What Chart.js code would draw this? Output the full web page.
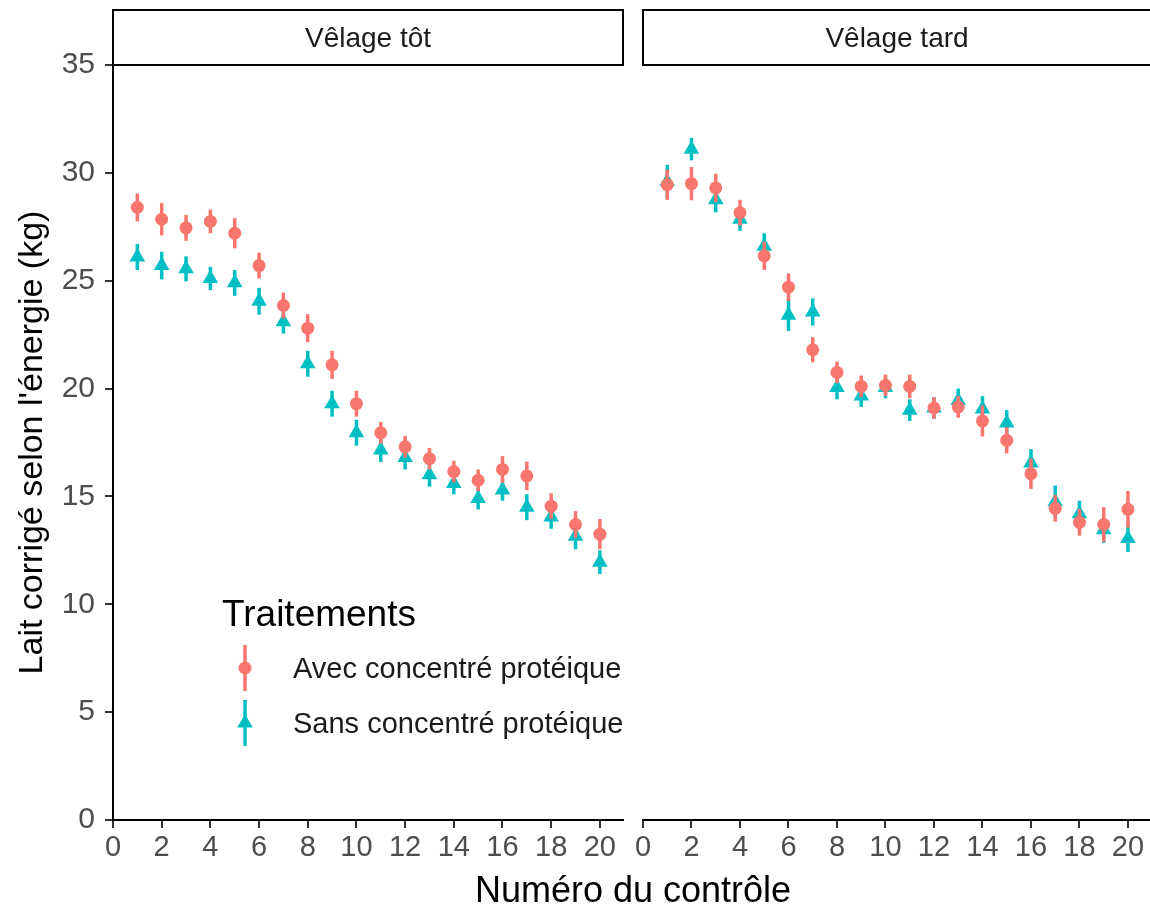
<!DOCTYPE html>
<html>
<head>
<meta charset="utf-8">
<script src="https://cdn.jsdelivr.net/npm/chart.js@4.4.0/dist/chart.umd.min.js"></script>
<style>
  html, body { margin: 0; padding: 0; background: #fff; overflow: hidden; }
  #wrap { position: relative; width: 1150px; height: 905px; overflow: hidden; }
  #left { position: absolute; left: 0; top: 0; }
  #right { position: absolute; left: 630px; top: 0; }
  #xtitle {
    position: absolute; left: 383px; width: 500px; top: 869px;
    text-align: center; color: #000; line-height: 40px;
    font: 36px "Liberation Sans", Arial, sans-serif;
  }
</style>
</head>
<body>
<div id="wrap">
  <canvas id="left" width="632" height="905"></canvas>
  <canvas id="right" width="530" height="905"></canvas>
  <div id="xtitle">Numéro du contrôle</div>
</div>
<script>
// Data
const controles = [1, 2, 3, 4, 5, 6, 7, 8, 9, 10, 11, 12, 13, 14, 15, 16, 17, 18, 19, 20];
const facettes = ['Vêlage tôt', 'Vêlage tard'];
const traitements = ['Avec concentré protéique', 'Sans concentré protéique'];

// Vêlage tôt
const avecTot = [28.4, 27.85, 27.45, 27.75, 27.2, 25.7, 23.85, 22.8, 21.1, 19.3, 17.95, 17.3, 16.75, 16.15, 15.75, 16.25, 15.95, 14.55, 13.7, 13.25];
const errAvecTot = [0.65, 0.75, 0.6, 0.55, 0.7, 0.6, 0.6, 0.65, 0.65, 0.6, 0.5, 0.5, 0.5, 0.5, 0.5, 0.62, 0.66, 0.6, 0.62, 0.7];
const sansTot = [26.1, 25.7, 25.55, 25.1, 24.9, 24.05, 23.1, 21.15, 19.3, 17.95, 17.15, 16.8, 16.0, 15.6, 14.9, 15.3, 14.5, 14.05, 13.15, 11.95];
const errSansTot = [0.6, 0.64, 0.58, 0.54, 0.6, 0.62, 0.55, 0.6, 0.6, 0.6, 0.55, 0.55, 0.55, 0.5, 0.5, 0.5, 0.6, 0.55, 0.6, 0.55];

// Vêlage tard
const avecTard = [29.45, 29.5, 29.3, 28.15, 26.15, 24.7, 21.8, 20.75, 20.1, 20.15, 20.1, 19.1, 19.15, 18.5, 17.6, 16.05, 14.45, 13.8, 13.7, 14.4];
const errAvecTard = [0.7, 0.77, 0.66, 0.6, 0.65, 0.64, 0.58, 0.5, 0.5, 0.5, 0.55, 0.5, 0.5, 0.72, 0.6, 0.7, 0.62, 0.62, 0.8, 0.85];
const sansTard = [29.6, 31.1, 28.75, 27.85, 26.6, 23.4, 23.55, 20.05, 19.65, 20.05, 19.0, 19.1, 19.45, 19.05, 18.4, 16.55, 14.75, 14.2, 13.45, 13.05];
const errSansTard = [0.77, 0.52, 0.58, 0.54, 0.6, 0.73, 0.63, 0.55, 0.5, 0.5, 0.5, 0.5, 0.55, 0.6, 0.6, 0.65, 0.75, 0.6, 0.6, 0.62];

const ROUGE = '#F8766D';
const TURQ = '#00BFC4';
const FONT = '"Liberation Sans", Arial, sans-serif';

function points(vals, errs) {
  return controles.map((c, i) => ({ x: c, y: vals[i], err: errs[i] }));
}

// vertical error bars, drawn under each dataset's points
const errorBars = {
  id: 'errorBars',
  beforeDatasetDraw(chart, args) {
    const ds = chart.data.datasets[args.index];
    const xs = chart.scales.x, ys = chart.scales.y;
    const ctx = chart.ctx;
    ctx.save();
    ctx.strokeStyle = ds.backgroundColor;
    ctx.lineWidth = 3.5;
    ds.data.forEach(p => {
      const px = xs.getPixelForValue(p.x);
      ctx.beginPath();
      ctx.moveTo(px, ys.getPixelForValue(p.y - p.err));
      ctx.lineTo(px, ys.getPixelForValue(p.y + p.err));
      ctx.stroke();
    });
    ctx.restore();
  }
};

// facet strip on top of each panel
const strip = {
  id: 'strip',
  afterDraw(chart, args, opts) {
    const { ctx, chartArea } = chart;
    const w = chartArea.right - chartArea.left;
    ctx.save();
    ctx.fillStyle = '#fff';
    ctx.fillRect(chartArea.left, 10, w, chartArea.top - 10);
    ctx.strokeStyle = '#000';
    ctx.lineWidth = 2;
    ctx.strokeRect(chartArea.left, 10, w, chartArea.top - 10);
    ctx.fillStyle = '#1a1a1a';
    ctx.font = '28px ' + FONT;
    ctx.textAlign = 'center';
    ctx.textBaseline = 'alphabetic';
    ctx.fillText(opts.text, chartArea.left + w / 2, 47);
    ctx.restore();
  }
};

function drawTriangle(ctx, x, y, r) {
  ctx.beginPath();
  for (let k = 0; k < 3; k++) {
    const a = -Math.PI / 2 + k * 2 * Math.PI / 3;
    const px = x + r * Math.cos(a), py = y + r * Math.sin(a);
    if (k === 0) ctx.moveTo(px, py); else ctx.lineTo(px, py);
  }
  ctx.closePath();
  ctx.fill();
}

// legend placed inside the left panel
const legendeInterne = {
  id: 'legendeInterne',
  afterDraw(chart) {
    const ctx = chart.ctx;
    ctx.save();
    ctx.fillStyle = '#000';
    ctx.font = '37px ' + FONT;
    ctx.textAlign = 'left';
    ctx.textBaseline = 'alphabetic';
    ctx.fillText('Traitements', 222, 626);

    const keyY = [668, 723];
    const colors = [ROUGE, TURQ];
    keyY.forEach((y, i) => {
      ctx.strokeStyle = colors[i];
      ctx.fillStyle = colors[i];
      ctx.lineWidth = 3.5;
      ctx.beginPath();
      ctx.moveTo(245, y - 23);
      ctx.lineTo(245, y + 23);
      ctx.stroke();
      if (i === 0) {
        ctx.beginPath();
        ctx.arc(245, y, 6.5, 0, 2 * Math.PI);
        ctx.fill();
      } else {
        drawTriangle(ctx, 245, y, 9);
      }
      ctx.fillStyle = '#1a1a1a';
      ctx.font = '29px ' + FONT;
      ctx.fillText(traitements[i], 293, y + 10);
    });
    ctx.restore();
  }
};

function makeChart(canvasId, facette, avec, errA, sans, errS, isLeft) {
  const plugins = [errorBars, strip];
  if (isLeft) plugins.push(legendeInterne);
  return new Chart(document.getElementById(canvasId), {
    type: 'scatter',
    data: {
      datasets: [
        {
          label: traitements[0],
          data: points(avec, errA),
          backgroundColor: ROUGE,
          borderColor: ROUGE,
          pointStyle: 'circle',
          pointRadius: 6.5,
          pointBorderWidth: 0
        },
        {
          label: traitements[1],
          data: points(sans, errS),
          backgroundColor: TURQ,
          borderColor: TURQ,
          pointStyle: 'triangle',
          pointRadius: 9,
          pointBorderWidth: 0
        }
      ]
    },
    plugins: plugins,
    options: {
      responsive: false,
      animation: false,
      devicePixelRatio: 1,
      layout: { padding: { left: isLeft ? 0 : 13, right: isLeft ? 7 : 4, top: 65, bottom: 0 } },
      plugins: {
        legend: { display: false },
        tooltip: { enabled: false },
        strip: { text: facette }
      },
      scales: {
        x: {
          type: 'linear',
          min: 0,
          max: 20.95,
          afterFit: s => { s.height = 85; },
          ticks: {
            stepSize: 2,
            includeBounds: false,
            color: '#4d4d4d',
            font: { family: FONT, size: 29 },
            padding: 3,
            maxRotation: 0,
            autoSkip: false
          },
          grid: { drawOnChartArea: false, tickLength: 8, color: '#333', lineWidth: 2 },
          border: { display: true, color: '#000', width: 2 }
        },
        y: {
          display: isLeft,
          min: 0,
          max: 35,
          afterFit: s => { s.width = isLeft ? 113 : 0; },
          ticks: {
            stepSize: 5,
            includeBounds: false,
            color: '#4d4d4d',
            font: { family: FONT, size: 30 },
            padding: 10
          },
          grid: { drawOnChartArea: false, tickLength: 8, color: '#333', lineWidth: 2 },
          border: { display: true, color: '#000', width: 2 },
          title: {
            display: true,
            text: "Lait corrigé selon l'énergie (kg)",
            color: '#000',
            font: { family: FONT, size: 34 },
            padding: { top: 12, bottom: 0 }
          }
        }
      }
    }
  });
}

makeChart('left', facettes[0], avecTot, errAvecTot, sansTot, errSansTot, true);
makeChart('right', facettes[1], avecTard, errAvecTard, sansTard, errSansTard, false);
</script>
</body>
</html>
